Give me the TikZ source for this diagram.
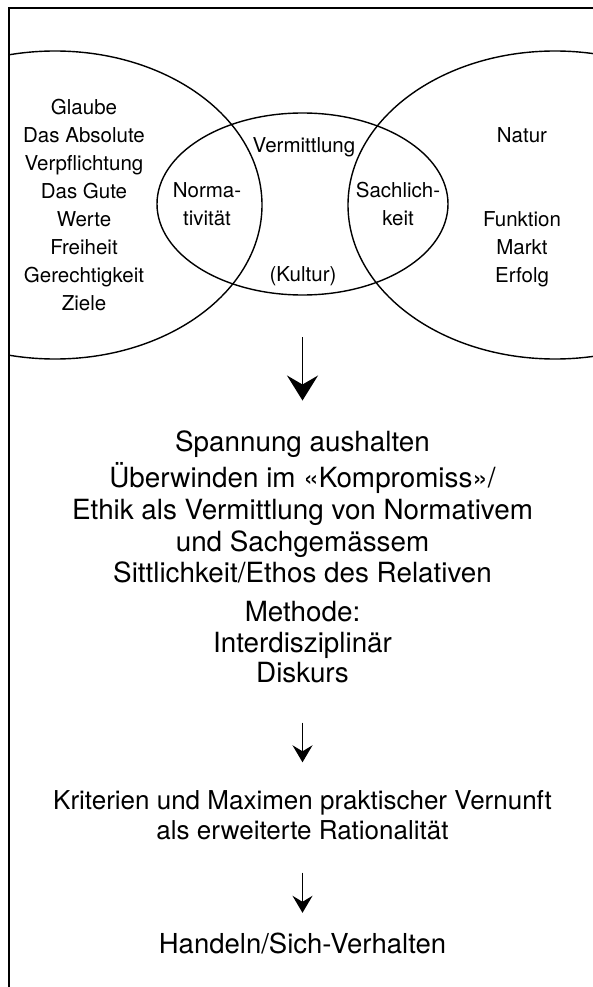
\documentclass[tikz,border=0pt]{standalone}
\usepackage{fontspec}
\setmainfont{TeX Gyre Heros}
\usetikzlibrary{arrows.meta}
\tikzset{
  venntext/.style={inner sep=0pt, align=center, font=\fontsize{20.5}{28}\selectfont},
  flowtext/.style={inner sep=0pt, align=center, font=\fontsize{27.8}{31.75}\selectfont},
  bigarrow/.style={line width=1.7pt, -{Stealth[length=25pt,width=31pt,inset=9pt]}},
  smallarrow/.style={line width=1.4pt, -{Stealth[length=17pt,width=20pt,inset=6pt]}}
}
\begin{document}
\begin{tikzpicture}[x=1pt, y=-1pt, line width=1.4pt]
            \useasboundingbox (0,0) rectangle (593,987);
            \draw[line width=1.8pt] (593,8) -- (9,8) -- (9,987);
            \begin{scope}
                \clip (9,8) rectangle (593,987);
                \draw (55,205) ellipse [x radius=207pt, y radius=154pt];
                \draw (555,205) ellipse [x radius=207pt, y radius=154pt];
                \draw (302.5,204) ellipse [x radius=145.5pt, y radius=91pt];
            \end{scope}
            \node[venntext] (glaube) at (84,206.8) {\strut Glaube\\\strut Das Absolute\\\strut Verpflichtung\\\strut Das Gute\\\strut Werte\\\strut Freiheit\\\strut Gerechtigkeit\\\strut Ziele};
            \node[venntext] (natur) at (522,136.8) {\strut Natur};
            \node[venntext] (funktion) at (522,248.8) {\strut Funktion\\\strut Markt\\\strut Erfolg};
            \node[venntext] (vermittlung) at (304,146.8) {\strut Vermittlung};
            \node[venntext] (normativ) at (207,206.3) {\strut Norma-\\\strut tivität};
            \node[venntext] (sachlich) at (398,206.3) {\strut Sachlich-\\\strut keit};
            \node[venntext] (kultur) at (303,276.1) {\strut (Kultur)};
            \coordinate (venn) at (302.5,337);
            \node[flowtext] (spannung) at (302.5,511) {\strut Spannung aushalten\\\strut Überwinden im «Kompromiss»/\\\strut Ethik als Vermittlung von Normativem\\\strut und Sachgemässem\\\strut Sittlichkeit/Ethos des Relativen};
            \node[flowtext, font=\fontsize{27.8}{30.5}\selectfont] (methode) at (302.5,646.1) {\strut Methode:\\\strut Interdisziplinär\\\strut Diskurs};
            \node[flowtext, font=\fontsize{26}{30}\selectfont] (kriterien) at (302.5,818.4) {\strut Kriterien und Maximen praktischer Vernunft\\\strut als erweiterte Rationalität};
            \node[flowtext, font=\fontsize{27.5}{32}\selectfont] (handeln) at (302.5,946.8) {\strut Handeln/Sich-Verhalten};
            \draw[bigarrow, shorten >=28.5pt] (venn) -- (spannung);
            \draw[smallarrow, shorten <=30pt, shorten >=25.4pt] (methode) -- (kriterien);
            \draw[smallarrow, shorten <=23.6pt, shorten >=17.3pt] (kriterien) -- (handeln);
        \end{tikzpicture}
\end{document}
